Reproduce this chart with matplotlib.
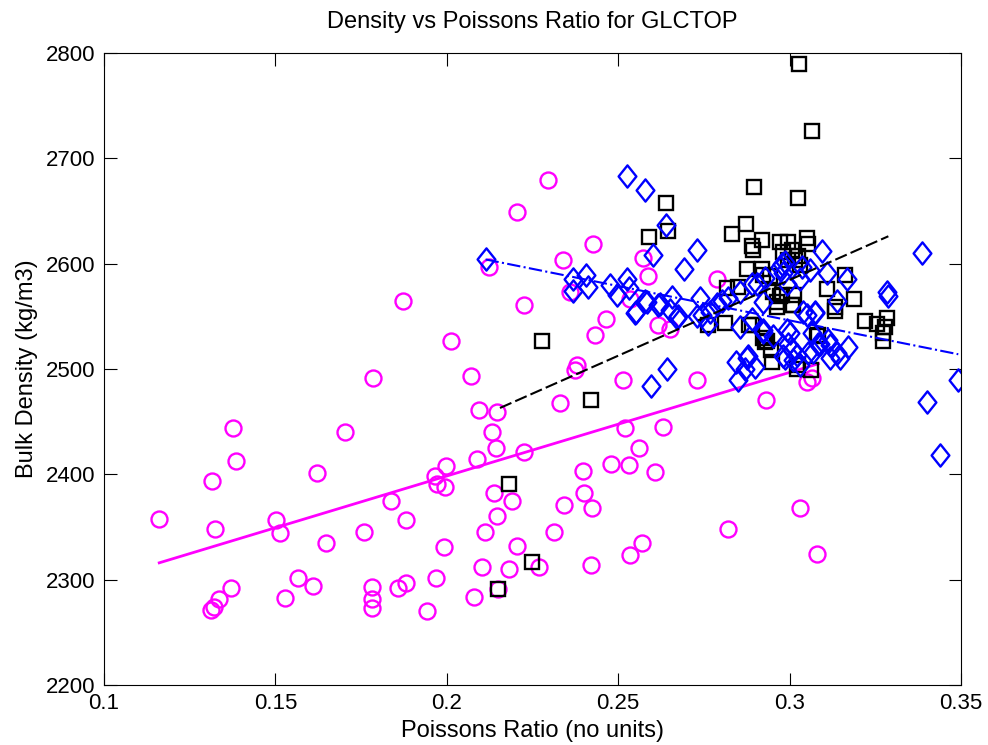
import matplotlib
matplotlib.use("Agg")
import matplotlib.pyplot as plt
from matplotlib.path import Path

# magenta circles
pr_m = [0.1161, 0.1314, 0.1324, 0.1311, 0.1321, 0.1335, 0.1370, 0.1375, 0.1385,
        0.1501, 0.1514, 0.1528, 0.1565, 0.1609, 0.1620, 0.1648, 0.1703, 0.1759,
        0.1781, 0.1781, 0.1781, 0.1786, 0.1837, 0.1859, 0.1873, 0.1880, 0.1881,
        0.1943, 0.1967, 0.1965, 0.1970, 0.1999, 0.1996, 0.1992, 0.2012, 0.2071,
        0.2080, 0.2087, 0.2094, 0.2102, 0.2112, 0.2123, 0.2133, 0.2142, 0.2145,
        0.2138, 0.2145, 0.2150, 0.2181, 0.2191, 0.2204, 0.2204, 0.2226, 0.2225,
        0.2269, 0.2296, 0.2313, 0.2330, 0.2340, 0.2343, 0.2359, 0.2374, 0.2381,
        0.2398, 0.2401, 0.2421, 0.2424, 0.2427, 0.2432, 0.2464, 0.2479, 0.2515,
        0.2520, 0.2530, 0.2534, 0.2535, 0.2562, 0.2573, 0.2570, 0.2588, 0.2607,
        0.2617, 0.2630, 0.2651, 0.2729, 0.2787, 0.2820, 0.2930, 0.3030, 0.3050,
        0.3064, 0.3080]
bd_m = [2358, 2394, 2348, 2271, 2274, 2282, 2292, 2444, 2413,
        2357, 2344, 2283, 2302, 2294, 2401, 2335, 2440, 2345,
        2293, 2282, 2273, 2491, 2375, 2292, 2565, 2357, 2297,
        2270, 2302, 2398, 2391, 2408, 2388, 2331, 2527, 2493,
        2284, 2415, 2461, 2312, 2345, 2597, 2440, 2425, 2459,
        2382, 2360, 2291, 2310, 2375, 2332, 2649, 2421, 2561,
        2312, 2679, 2345, 2468, 2603, 2371, 2573, 2499, 2504,
        2403, 2382, 2314, 2368, 2619, 2532, 2547, 2410, 2490,
        2444, 2409, 2323, 2566, 2425, 2605, 2335, 2588, 2402,
        2542, 2445, 2538, 2490, 2585, 2348, 2471, 2368, 2488,
        2491, 2324]

# black squares
pr_k = [0.2150, 0.2181, 0.2247, 0.2277, 0.2420, 0.2591, 0.2639, 0.2646, 0.2763,
        0.2812, 0.2816, 0.2833, 0.2850, 0.2872, 0.2875, 0.2882, 0.2889, 0.2891,
        0.2894, 0.2897, 0.2918, 0.2920, 0.2921, 0.2923, 0.2928, 0.2933, 0.2943,
        0.2947, 0.2950, 0.2952, 0.2962, 0.2962, 0.2972, 0.2972, 0.2978, 0.2982,
        0.2996, 0.2996, 0.3006, 0.3006, 0.3011, 0.3014, 0.3016, 0.3021, 0.3024,
        0.3025, 0.3025, 0.3027, 0.3030, 0.3050, 0.3055, 0.3061, 0.3066, 0.3079,
        0.3084, 0.3108, 0.3132, 0.3132, 0.3162, 0.3188, 0.3220, 0.3254, 0.3273,
        0.3273, 0.3278, 0.3283]
bd_k = [2291, 2391, 2317, 2527, 2471, 2625, 2658, 2631, 2542,
        2544, 2577, 2628, 2578, 2638, 2595, 2542, 2617, 2542,
        2613, 2673, 2595, 2622, 2529, 2589, 2526, 2527, 2588,
        2518, 2507, 2573, 2559, 2564, 2621, 2569, 2570, 2611,
        2621, 2603, 2613, 2561, 2561, 2570, 2603, 2500, 2662,
        2607, 2504, 2790, 2599, 2624, 2619, 2499, 2726, 2531,
        2532, 2576, 2559, 2555, 2589, 2566, 2546, 2543, 2534,
        2527, 2540, 2548]

# blue diamonds
pr_b = [0.2113, 0.2369, 0.2369, 0.2406, 0.2413, 0.2476, 0.2495, 0.2527, 0.2527,
        0.2532, 0.2549, 0.2551, 0.2578, 0.2578, 0.2583, 0.2597, 0.2602, 0.2617,
        0.2622, 0.2639, 0.2641, 0.2651, 0.2656, 0.2670, 0.2675, 0.2693, 0.2729,
        0.2729, 0.2739, 0.2743, 0.2763, 0.2768, 0.2787, 0.2802, 0.2821, 0.2845,
        0.2850, 0.2855, 0.2855, 0.2870, 0.2875, 0.2880, 0.2889, 0.2889, 0.2899,
        0.2904, 0.2923, 0.2923, 0.2923, 0.2928, 0.2952, 0.2972, 0.2977, 0.2982,
        0.2982, 0.2987, 0.2987, 0.2991, 0.2991, 0.2996, 0.3001, 0.3006, 0.3011,
        0.3021, 0.3030, 0.3030, 0.3035, 0.3040, 0.3050, 0.3055, 0.3059, 0.3064,
        0.3069, 0.3074, 0.3074, 0.3084, 0.3089, 0.3094, 0.3108, 0.3113, 0.3118,
        0.3118, 0.3137, 0.3137, 0.3147, 0.3167, 0.3171, 0.3283, 0.3288, 0.3385,
        0.3400, 0.3439, 0.3490]
bd_b = [2604, 2585, 2574, 2589, 2578, 2580, 2570, 2683, 2585,
        2577, 2553, 2554, 2670, 2565, 2564, 2484, 2608, 2561,
        2562, 2637, 2500, 2556, 2568, 2548, 2550, 2595, 2613,
        2550, 2567, 2551, 2543, 2554, 2562, 2565, 2567, 2507,
        2490, 2540, 2573, 2500, 2510, 2512, 2547, 2581, 2502,
        2581, 2564, 2537, 2535, 2586, 2531, 2597, 2600, 2591,
        2512, 2602, 2510, 2581, 2537, 2524, 2534, 2518, 2509,
        2513, 2585, 2504, 2597, 2554, 2551, 2515, 2594, 2534,
        2516, 2553, 2554, 2524, 2524, 2612, 2591, 2528, 2510,
        2523, 2565, 2515, 2510, 2585, 2521, 2573, 2569, 2610,
        2469, 2418, 2490]

# fitted trend lines (end points)
fit_m_x = [0.1161, 0.3084]
fit_m_y = [2316, 2505]
fit_k_x = [0.2155, 0.3288]
fit_k_y = [2463, 2626]
fit_b_x = [0.2113, 0.3492]
fit_b_y = [2604, 2514]

xticks = [0.1, 0.15, 0.2, 0.25, 0.3, 0.35]
xticklabels = ['0.1', '0.15', '0.2', '0.25', '0.3', '0.35']
yticks = [2200, 2300, 2400, 2500, 2600, 2700, 2800]

plt.rcParams['font.family'] = ['Liberation Sans', 'DejaVu Sans']

diamond = Path([(0, 1), (0.8, 0), (0, -1), (-0.8, 0), (0, 1)],
               [Path.MOVETO, Path.LINETO, Path.LINETO, Path.LINETO, Path.CLOSEPOLY])

fig = plt.figure(figsize=(9.88, 7.45), dpi=100)
ax = fig.add_axes([0.1053, 0.0805, 0.8674, 0.8484])

ax.plot(pr_m, bd_m, 'o', ms=11.5, mfc='none', mec='#ff00ff', mew=1.7, ls='none')
ax.plot(fit_m_x, fit_m_y, '-', color='#ff00ff', lw=2)
ax.plot(pr_k, bd_k, 's', ms=10, mfc='none', mec='black', mew=1.7, ls='none')
ax.plot(pr_b, bd_b, marker=diamond, ms=16, mfc='none', mec='#0000ff', mew=1.7, ls='none')
ax.plot(fit_k_x, fit_k_y, '--', color='black', lw=1.5, dashes=(6, 2))
ax.plot(fit_b_x, fit_b_y, '-.', color='#0000ff', lw=1.5)

ax.set_xlim(0.1, 0.35)
ax.set_ylim(2200, 2800)
ax.set_xticks(xticks)
ax.set_xticklabels(xticklabels)
ax.set_yticks(yticks)
ax.tick_params(direction='in', length=9, top=True, right=True, labelsize=16, pad=6)
ax.set_title('Density vs Poissons Ratio for GLCTOP', fontsize=17, pad=18)
ax.set_xlabel('Poissons Ratio (no units)', fontsize=17, labelpad=4)
ax.set_ylabel('Bulk Density (kg/m3)', fontsize=17, labelpad=6)

fig.savefig('out.png', dpi=100)
